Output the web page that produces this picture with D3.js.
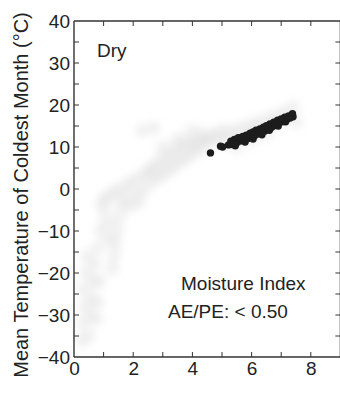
<!DOCTYPE html>
<html><head><meta charset="utf-8">
<script src="https://cdn.jsdelivr.net/npm/d3@7"></script>
<style>html,body{margin:0;padding:0;background:#fff;}svg{display:block;}</style>
</head><body>
<script>
// ---- data ----
const xTicks = [0, 2, 4, 6, 8];
const yTicks = [-40, -30, -20, -10, 0, 10, 20, 30, 40];
const panelLabel = "Dry";
const legendLine1 = "Moisture Index";
const legendLine2 = "AE/PE: < 0.50";
const yLabel = "Mean Temperature of Coldest Month (°C)";
// all sites (light gray background cloud)
const allSitesX = [0.25,0.3,0.35,0.3,0.4,0.5,0.55,0.6,0.65,0.7,0.75,0.8,0.8,0.85,0.9,0.45,
  1.3,1.35,1.4,1.45,1.5,1.2,1.1,1.0,1.6,
  0.95,1.1,1.3,1.5,1.7,1.8,2.0,2.1,2.3,2.4,2.5,1.9,2.2,
  2.6,2.7,2.8,2.9,3.0,3.1,3.2,3.3,3.4,3.5,3.6,3.7,3.8,3.9,4.0,4.1,4.2,4.3,4.4,4.5,3.0,3.5,4.0,
  4.6,4.8,5.0,5.0,5.2,5.4,5.6,5.8,6.0,6.2,6.4,6.6,6.8,7.0,7.2,7.4,7.5,5.5,6.0,6.5,
  2.3,2.7];
const allSitesY = [-36,-32,-28,-24,-20,-35,-30,-26,-22,-18,-31,-27,-14,-22,-10,-16,
  -19,-16,-13,-10,-7,-12,-8,-5,-4,
  -3,-2,-1,0,-2,1,2,-1,3,0,4,-4,-3,
  5,2,6,3,7,4,8,5,9,6,10,7,11,8,11,9,12,10,13,11,10,12,14,
  12,13,11,14,12.5,14,13,15,14,16,15,17,16,18,17.5,19.5,16,10,11.5,13,
  14,14.5];
// dry sites (black)
const drySitesX = [4.61,4.95,5.02,5.22,5.3,5.35,5.42,5.5,5.55,5.62,5.7,5.75,5.82,5.88,5.95,6.0,6.05,6.1,6.15,6.2,
  6.28,6.32,6.4,6.45,6.5,6.55,6.62,6.68,6.75,6.8,6.88,6.92,7.0,7.05,7.12,7.18,7.25,7.3,7.38,7.4,
  5.45,5.78,6.05,6.35,6.6,6.9,7.15];
const drySitesY = [8.6,10.2,10.0,10.5,11.4,10.6,11.8,11.0,12.2,11.4,12.5,11.7,12.8,12.0,13.3,12.4,13.6,12.7,14.0,13.1,
  14.3,13.4,14.7,13.8,15.1,14.2,15.5,14.7,15.9,15.1,16.4,15.7,16.7,16.0,17.1,16.5,17.4,16.9,17.9,17.2,
  10.3,11.2,11.9,12.9,14.0,15.0,16.0];

// ---- chart ----
const W = 340, H = 414;
const svg = d3.select("body").append("svg").attr("width", W).attr("height", H);
const x = d3.scaleLinear().domain([0, 9]).range([74, 340.4]);
const y = d3.scaleLinear().domain([-40, 40]).range([357, 21]);
const font = "'Liberation Sans', Arial, Helvetica, sans-serif";
const ink = "#222";

const defs = svg.append("defs");
defs.append("filter").attr("id", "blur").attr("x", "-50%").attr("y", "-50%").attr("width", "200%").attr("height", "200%")
  .append("feGaussianBlur").attr("stdDeviation", 4);
defs.append("filter").attr("id", "soft")
  .append("feGaussianBlur").attr("stdDeviation", 0.6);
defs.append("clipPath").attr("id", "plotclip").append("rect")
  .attr("x", 74).attr("y", 21).attr("width", 267).attr("height", 336);

// gray cloud
svg.append("g").attr("clip-path", "url(#plotclip)").attr("filter", "url(#blur)")
  .selectAll("circle").data(allSitesX.map((d, i) => [d, allSitesY[i]])).join("circle")
  .attr("cx", d => x(d[0])).attr("cy", d => y(d[1])).attr("r", 6.5)
  .attr("fill", "#dcdcdc").attr("fill-opacity", 0.45);

// black points
svg.append("g").attr("filter", "url(#soft)").selectAll("circle")
  .data(drySitesX.map((d, i) => [d, drySitesY[i]])).join("circle")
  .attr("cx", d => x(d[0])).attr("cy", d => y(d[1])).attr("r", 3.7)
  .attr("fill", "#1c1c1c");

// axes
const tickLen = 5;
const bottom = svg.append("g").attr("transform", `translate(0,${y(-40)})`)
  .call(d3.axisBottom(x).tickValues(xTicks).tickSize(0).tickPadding(5).tickFormat(d3.format("d")));
const left = svg.append("g").attr("transform", `translate(${x(0)},0)`)
  .call(d3.axisLeft(y).tickValues(yTicks).tickSize(0).tickPadding(4).tickFormat(d3.format("d")));
[bottom, left].forEach(g => {
  g.select(".domain").remove();
  g.selectAll("text").attr("font-family", font).attr("font-size", 19).attr("fill", ink);
});

// frame
const frame = svg.append("g").attr("stroke", "#333").attr("stroke-width", 1.4).attr("fill", "none");
frame.append("line").attr("x1", x(0)).attr("x2", x(0)).attr("y1", y(40)).attr("y2", y(-40));
frame.append("line").attr("x1", x(0)).attr("x2", x(9)).attr("y1", y(-40)).attr("y2", y(-40));
frame.append("line").attr("x1", x(0)).attr("x2", x(9)).attr("y1", y(40)).attr("y2", y(40));
frame.append("line").attr("x1", x(9)).attr("x2", x(9)).attr("y1", y(40)).attr("y2", y(-40));

// inward ticks
const tk = svg.append("g").attr("stroke", "#333").attr("stroke-width", 1);
d3.range(1, 9).forEach(v => {
  tk.append("line").attr("x1", x(v)).attr("x2", x(v)).attr("y1", y(-40)).attr("y2", y(-40) - tickLen);
  tk.append("line").attr("x1", x(v)).attr("x2", x(v)).attr("y1", y(40)).attr("y2", y(40) + tickLen);
});
d3.range(-35, 40, 5).forEach(v => {
  tk.append("line").attr("x1", x(0)).attr("x2", x(0) + tickLen).attr("y1", y(v)).attr("y2", y(v));
  tk.append("line").attr("x1", x(9)).attr("x2", x(9) - tickLen).attr("y1", y(v)).attr("y2", y(v));
});

// y-axis title
svg.append("text").attr("transform", `translate(28,195) rotate(-90)`)
  .attr("text-anchor", "middle").attr("font-family", font).attr("font-size", 20).attr("fill", ink)
  .text(yLabel);

// annotations
svg.append("text").attr("x", 97).attr("y", 57).attr("font-family", font).attr("font-size", 19).attr("fill", ink).text(panelLabel);
svg.append("text").attr("x", 181).attr("y", 290).attr("font-family", font).attr("font-size", 19).attr("fill", ink).text(legendLine1);
svg.append("text").attr("x", 168).attr("y", 318).attr("font-family", font).attr("font-size", 19).attr("fill", ink).text(legendLine2);
</script>
</body></html>
